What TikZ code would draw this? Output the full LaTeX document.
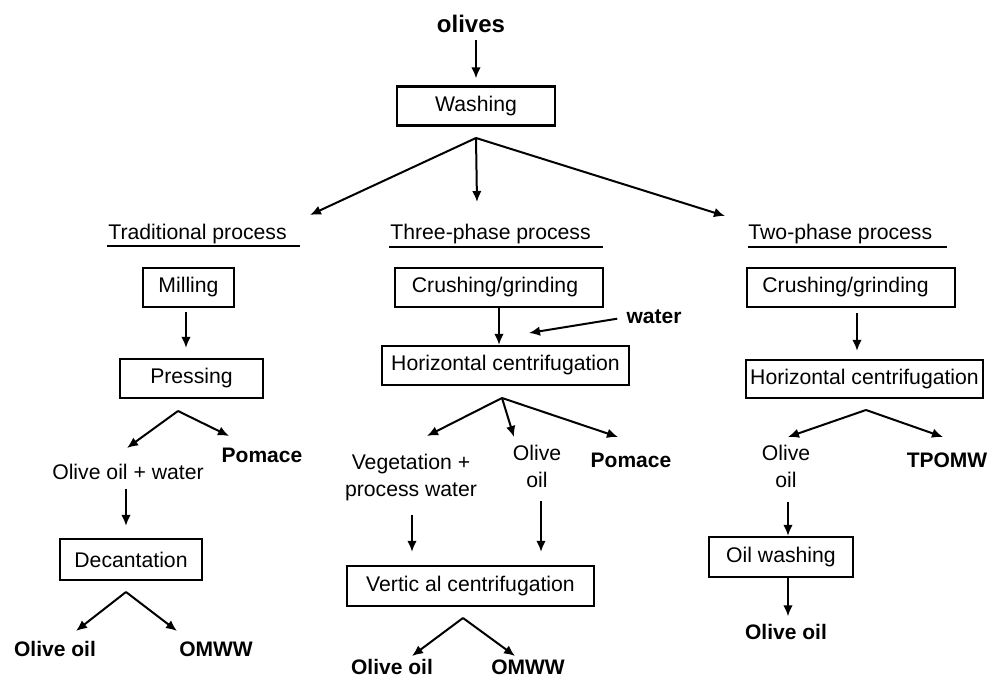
\documentclass[tikz,border=0pt]{standalone}
\usepackage{fontspec}
\setmainfont{Liberation Sans}
\usetikzlibrary{arrows.meta,calc}
\begin{document}
\begin{tikzpicture}[x=0.5pt,y=-0.5pt,
  every node/.style={font=\fontsize{10.6}{13.5}\selectfont, inner sep=0pt},
  box/.style={draw, line width=1.1pt, minimum height=19.5pt, inner sep=0pt},
  bl/.style={font=\fontsize{10.5}{13}\selectfont\bfseries},
  big/.style={font=\fontsize{12}{14}\selectfont\bfseries},
  arr/.style={line width=1pt, -{Latex[length=5.5pt,width=4.8pt]}},
  ul/.style={line width=1pt},
  txt/.style={align=center}]
\useasboundingbox (0,0) rectangle (998,678);

% top
\node[big,anchor=base] (olives) at (471,33) {olives};
\node[box,minimum width=79pt] (wash) at (476,106) {Washing};
\draw[arr,shorten <=3pt,shorten >=3.5pt] (olives.south -| wash.north) -- (wash.north);
\coordinate (b0) at (476,138);
\coordinate (t0a) at (310,215);
\coordinate (t0b) at (477,202);
\coordinate (t0c) at (725,216);
\draw[arr] (b0) -- (t0a);
\draw[arr] (b0) -- (t0b);
\draw[arr] (b0) -- (t0c);

% headings
\node[anchor=base west] (h1) at (108,240) {Traditional process};
\node[anchor=base west] (h2) at (390,240) {Three-phase process};
\node[anchor=base west] (h3) at (748,240) {Two-phase process};
\draw[ul] (h1.base west) ++(-1,6) -- ++(193,0);
\draw[ul] (h2.base west) ++(-1,7) -- ++(214,0);
\draw[ul] (h3.base west) ++(0,7) -- ++(199,0);

% traditional
\node[box,minimum width=45.5pt] (mill) at (188.5,287.5) {Milling};
\node[box,minimum width=71.5pt] (press) at (191.5,378.5) {Pressing};
\draw[arr,shorten <=2pt,shorten >=5pt] (mill.south -| 186,0) -- (press.north -| 186,0);
\coordinate (b1) at (178,411);
\coordinate (t1a) at (127,448);
\coordinate (t1b) at (229,436);
\draw[arr] (b1) -- (t1a);
\draw[arr] (b1) -- (t1b);
\node[bl,anchor=base] (pom1) at (262,463) {Pomace};
\node[anchor=base] (oow) at (128,480) {Olive oil + water};
\node[box,minimum width=71pt,minimum height=20.5pt] (dec) at (131,559.5) {Decantation};
\draw[arr,shorten <=4pt,shorten >=6pt] (oow.south -| 126,0) -- (dec.north -| 126,0);
\coordinate (b2) at (126,592);
\coordinate (t2a) at (76,631);
\coordinate (t2b) at (177,631);
\draw[arr] (b2) -- (t2a);
\draw[arr] (b2) -- (t2b);
\node[bl,anchor=base] (oo1) at (55,657) {Olive oil};
\node[bl,anchor=base] (om1) at (216,657) {OMWW};

% three-phase
\node[box,minimum width=104pt] (cr3) at (499,287.5) {Crushing/grinding\kern4pt};
\node[box,minimum width=123.5pt] (hc3) at (505.5,365.5) {Horizontal centrifugation};
\draw[arr] (cr3.south -| 499,0) -- (hc3.north -| 499,0);
\node[bl,anchor=base] (water) at (654,324) {water};
\coordinate (tw) at (529,333);
\draw[arr,shorten <=4.5pt] (water.west) -- (tw);
\coordinate (b3) at (502,398);
\coordinate (t3a) at (427,436);
\coordinate (t3b) at (514,437);
\coordinate (t3c) at (618,437);
\draw[arr] (b3) -- (t3a);
\draw[arr] (b3) -- (t3b);
\draw[arr] (b3) -- (t3c);
\node[txt] (veg) at (411,478) {Vegetation +\\process water};
\node[txt] (oil3) at (537,466) {Olive\\oil};
\node[bl,anchor=base] (pom3) at (631,468) {Pomace};
\node[box,minimum width=123.5pt,minimum height=20pt] (vc) at (470.5,586) {Vertic al centrifugation};
\draw[arr,shorten <=6.5pt,shorten >=6.5pt] (veg.south -| 412,0) -- (vc.north -| 412,0);
\draw[arr,shorten <=6.5pt,shorten >=6.5pt] (oil3.south -| 541,0) -- (vc.north -| 541,0);
\coordinate (b4) at (463,618);
\coordinate (t4a) at (412,656);
\coordinate (t4b) at (515,656);
\draw[arr] (b4) -- (t4a);
\draw[arr] (b4) -- (t4b);
\node[bl,anchor=base] (oo3) at (392,675) {Olive oil};
\node[bl,anchor=base] (om3) at (528,675) {OMWW};

% two-phase
\node[box,minimum width=104pt] (cr2) at (851,287.5) {Crushing/grinding\kern5.5pt};
\node[box,minimum width=118.5pt,minimum height=19pt] (hc2) at (864.5,379) {Horizontal centrifugation};
\draw[arr,shorten <=2.5pt,shorten >=4pt] (cr2.south -| 857,0) -- (hc2.north -| 857,0);
\coordinate (b5) at (866,410);
\coordinate (t5a) at (788,437);
\coordinate (t5b) at (943,437);
\draw[arr] (b5) -- (t5a);
\draw[arr] (b5) -- (t5b);
\node[txt] (oil2) at (786,466) {Olive\\oil};
\node[bl,anchor=base] (tp) at (947,468) {TPOMW};
\node[box,minimum width=72pt,minimum height=20pt] (ow) at (781,557) {Oil washing};
\draw[arr,shorten <=7pt] (oil2.south -| 788,0) -- (ow.north -| 788,0);
\node[bl,anchor=base] (oo2) at (786,640) {Olive oil};
\draw[arr,shorten >=4pt] (ow.south -| 788,0) -- (oo2.north -| 788,0);
\end{tikzpicture}
\end{document}
